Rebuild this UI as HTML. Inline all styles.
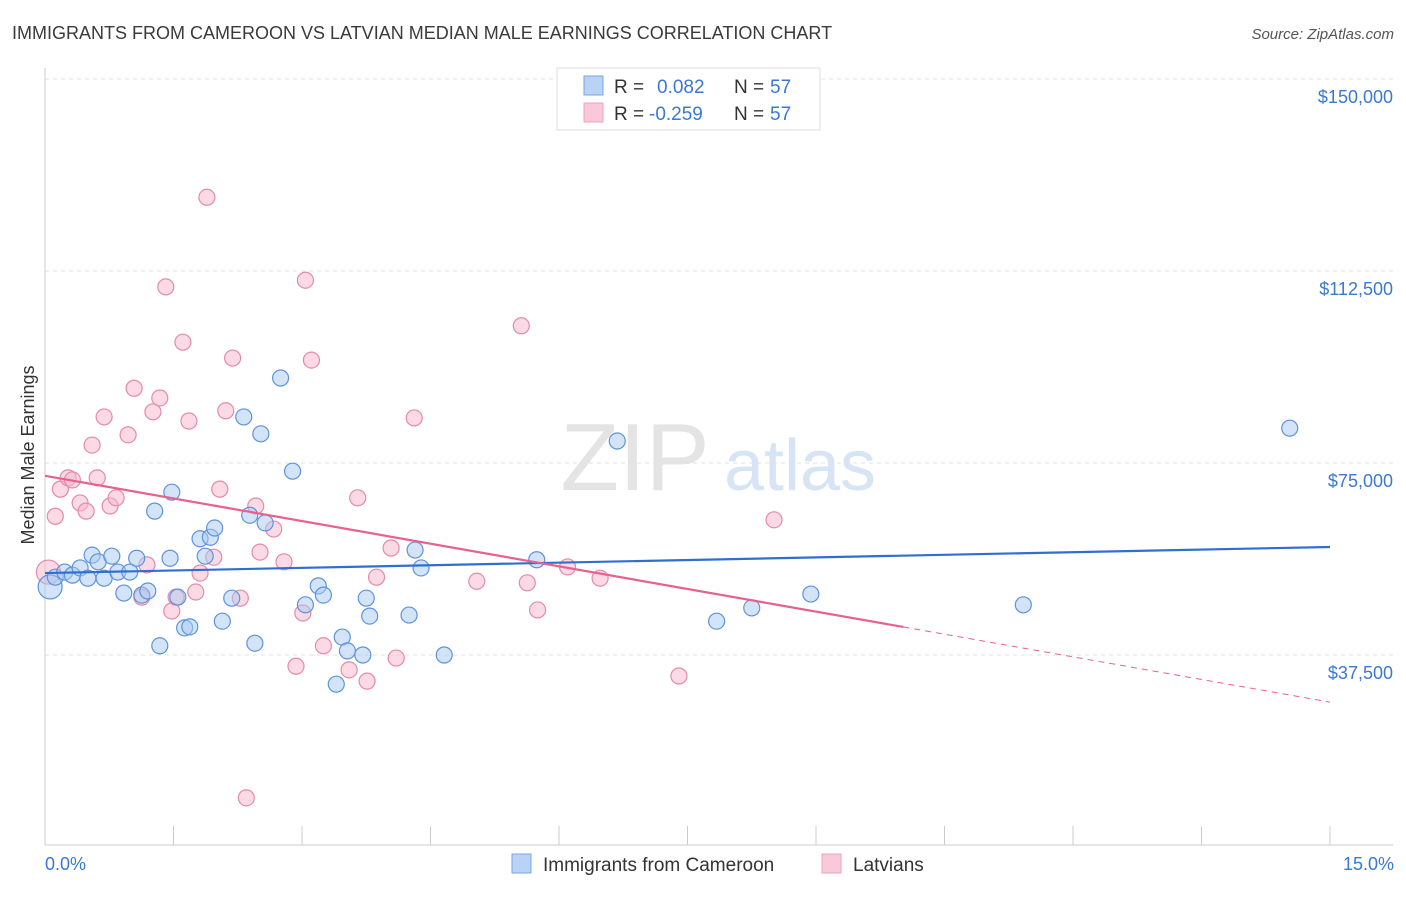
<!DOCTYPE html>
<html><head><meta charset="utf-8"><style>
body{margin:0;background:#fff;font-family:"Liberation Sans",sans-serif;}
svg text{font-family:"Liberation Sans",sans-serif;}
</style></head><body>
<svg id="chart" width="1406" height="892" xmlns="http://www.w3.org/2000/svg">
<text x="12" y="39" font-size="18" fill="#3a3a3a">IMMIGRANTS FROM CAMEROON VS LATVIAN MEDIAN MALE EARNINGS CORRELATION CHART</text>
<text x="1394" y="39" font-size="15" fill="#555" text-anchor="end" font-style="italic">Source: ZipAtlas.com</text>
<g id="grid"></g>
<g><text x="635" y="490" font-size="96" fill="#e4e4e4" text-anchor="middle" font-family="Liberation Serif">ZIP</text><text x="800" y="490" font-size="72" fill="#d6e4f5" text-anchor="middle">atlas</text></g>
<g id="points"></g>
<g id="lines"></g>
<text transform="translate(34,455) rotate(-90)" font-size="18" fill="#333" text-anchor="middle">Median Male Earnings</text>
<text x="45" y="870" font-size="18" fill="#3a78d4">0.0%</text>
<text x="1394" y="870" font-size="18" fill="#3a78d4" text-anchor="end">15.0%</text>
<g>
<rect x="557" y="68" width="263" height="62" fill="#fff" stroke="#ddd"/>
<rect x="584" y="76" width="19" height="19" fill="#b8d3f5" stroke="#7aa6e0"/>
<rect x="584" y="103" width="19" height="19" fill="#fac8d8" stroke="#eba2bb"/>
<text x="614" y="93" font-size="19" fill="#333">R = </text><text x="657" y="93" font-size="19" fill="#3a78d4">0.082</text>
<text x="734" y="93" font-size="19" fill="#333">N = </text><text x="770" y="93" font-size="19" fill="#3a78d4">57</text>
<text x="614" y="120" font-size="19" fill="#333">R = </text><text x="649" y="120" font-size="19" fill="#3a78d4">-0.259</text>
<text x="734" y="120" font-size="19" fill="#333">N = </text><text x="770" y="120" font-size="19" fill="#3a78d4">57</text>
</g>
<g>
<rect x="512" y="854" width="19" height="19" fill="#b8d3f5" stroke="#7aa6e0"/>
<text x="543" y="871" font-size="19" fill="#333">Immigrants from Cameroon</text>
<rect x="822" y="854" width="19" height="19" fill="#fac8d8" stroke="#eba2bb"/>
<text x="853" y="871" font-size="19" fill="#333">Latvians</text>
</g>
</svg>
<script>
const yTicks=[37500,75000,112500,150000];
const yTickLabels=["$37,500","$75,000","$112,500","$150,000"];
const blueX=[0.06,0.12,0.23,0.32,0.41,0.50,0.55,0.62,0.69,0.78,0.85,0.92,0.99,1.07,1.13,1.20,1.28,1.34,1.46,1.48,1.55,1.63,1.69,1.81,1.87,1.93,1.98,2.07,2.18,2.32,2.39,2.45,2.52,2.57,2.75,2.89,3.04,3.19,3.25,3.40,3.47,3.53,3.71,3.75,3.79,4.25,4.32,4.39,4.66,5.74,6.68,7.84,8.25,8.94,11.42,14.53];
const blueY=[50800,52700,53700,53100,54500,52500,57000,55700,52500,56800,53700,49600,53700,56400,49200,50000,65600,39300,56400,69300,48800,42800,43000,60200,56800,60500,62300,44100,48600,84000,64800,39800,80700,63300,91600,73400,47300,51000,49200,31800,41000,38300,37500,48600,45100,45300,58000,54500,37500,56100,79300,44100,46700,49400,47300,81800];
const pinkX=[0.04,0.12,0.18,0.27,0.32,0.41,0.48,0.55,0.61,0.69,0.76,0.83,0.97,1.04,1.13,1.19,1.26,1.34,1.41,1.48,1.53,1.61,1.68,1.76,1.81,1.89,1.97,2.04,2.11,2.19,2.28,2.35,2.46,2.51,2.67,2.79,2.93,3.01,3.04,3.11,3.25,3.55,3.65,3.76,3.87,4.04,4.10,4.31,5.04,5.56,5.63,5.75,6.10,6.48,7.40,8.51];
const pinkY=[53700,64600,69900,72100,71700,67200,65600,78500,72100,84000,66600,68200,80500,89600,48800,55100,85000,87700,109400,46100,48800,98600,83200,49800,53500,126900,56600,69900,85200,95500,48600,9600,66600,57600,62100,55700,35300,45700,110700,95100,39300,34600,68200,32400,52700,58400,36900,83800,51900,101800,51600,46300,54700,52500,33400,63900];
const blueTrend=[53500,58600];
const pinkTrend=[72500,28300];
const pinkSolidEnd=10.02;
const NS="http://www.w3.org/2000/svg";
const X0=45,X1=1330,Y0=847,YPX=192/37500;
const sx=v=>X0+(v/15)*(X1-X0);
const sy=v=>Y0-v*YPX;
function mk(tag,attrs,parent){const e=document.createElementNS(NS,tag);for(const k in attrs)e.setAttribute(k,attrs[k]);parent.appendChild(e);return e;}
const grid=document.getElementById('grid');
yTicks.forEach((t,i)=>{
 const l=mk('line',{x1:X0,x2:1393,y1:sy(t),y2:sy(t),stroke:'#e2e2e2','stroke-dasharray':'4,4'},grid);
 
 
 const tx=mk('text',{x:1393,y:sy(t)+24,'font-size':18,fill:'#3a78d4','text-anchor':'end'},grid);
 tx.textContent=yTickLabels[i];
 
 
});
const gtop=mk('line',{x1:X0,x2:1393,y1:79,y2:79,stroke:'#e2e2e2','stroke-dasharray':'4,4'},grid);


const ya=mk('line',{x1:X0,x2:X0,y1:68,y2:845,stroke:'#ccc'},grid);


const xa=mk('line',{x1:X0,x2:1393,y1:845,y2:845,stroke:'#ccc'},grid);


for(let i=0;i<=10;i++){
 const t=mk('line',{x1:sx(i*1.5),x2:sx(i*1.5),y1:826,y2:845,stroke:'#ccc'},grid);
 
 
}
const pts=document.getElementById('points');
function drawSeries(xs,ys,fill,stroke,name){
 xs.forEach((x,i)=>{
  const c=mk('circle',{cx:sx(x),cy:sy(ys[i]),r:i===0?12:8,fill:fill,'fill-opacity':0.5,stroke:stroke,'stroke-width':1.2},pts);
  
  
 });
}
drawSeries(pinkX,pinkY,'#f7b6cb','#e48aaa','latvians-point');
drawSeries(blueX,blueY,'#a9c9f2','#5d93dc','cameroon-point');
const lg=document.getElementById('lines');
const bl=mk('line',{x1:sx(0),y1:sy(blueTrend[0]),x2:sx(15),y2:sy(blueTrend[1]),stroke:'#2f6fd0','stroke-width':2.2},lg);


const pAt=x=>pinkTrend[0]+(pinkTrend[1]-pinkTrend[0])*x/15;
const pl=mk('line',{x1:sx(0),y1:sy(pAt(0)),x2:sx(pinkSolidEnd),y2:sy(pAt(pinkSolidEnd)),stroke:'#e8608e','stroke-width':2.2},lg);


const pd=mk('line',{x1:sx(pinkSolidEnd),y1:sy(pAt(pinkSolidEnd)),x2:sx(15),y2:sy(pAt(15)),stroke:'#e8608e','stroke-width':1,'stroke-dasharray':'6,5'},lg);


</script>
</body></html>
